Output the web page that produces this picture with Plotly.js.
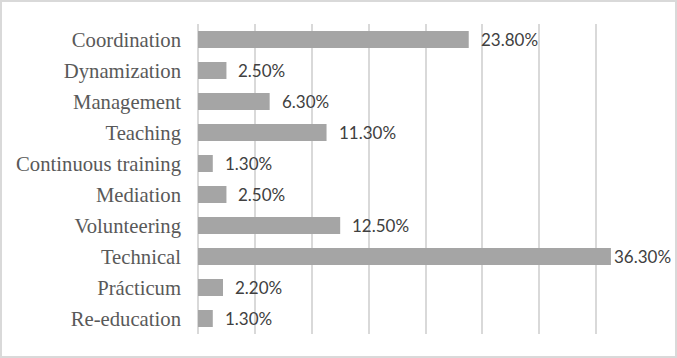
<!DOCTYPE html>
<html>
<head>
<meta charset="utf-8">
<script src="https://cdn.plot.ly/plotly-3.0.1.min.js"></script>
<style>
  html, body { margin: 0; padding: 0; background: #ffffff; }
  #chart { width: 677px; height: 358px; }
</style>
</head>
<body>
<div id="chart"></div>
<script>
const categories = ["Coordination", "Dynamization", "Management", "Teaching", "Continuous training", "Mediation", "Volunteering", "Technical", "Prácticum", "Re-education"];
const values = [23.8, 2.5, 6.3, 11.3, 1.3, 2.5, 12.5, 36.3, 2.2, 1.3];
const valueLabels = values.map(v => v.toFixed(2) + "%");

const W = 677, H = 358;
const M = { l: 198, r: 24, t: 24, b: 24 };
const pw = W - M.l - M.r, ph = H - M.t - M.b;

const trace = {
  type: "bar",
  orientation: "h",
  x: values,
  y: categories,
  marker: { color: "#a5a5a5" },
  hoverinfo: "none"
};

const annotations = values.map((v, i) => ({
  x: v,
  y: categories[i],
  xref: "x",
  yref: "y",
  text: valueLabels[i],
  showarrow: false,
  xanchor: "left",
  yanchor: "middle",
  xshift: v > 30 ? 1 : 10,
  font: { family: "Lato, 'Liberation Sans', sans-serif", size: 17, color: "#404040" }
}));

const layout = {
  width: W,
  height: H,
  margin: M,
  paper_bgcolor: "#ffffff",
  plot_bgcolor: "#ffffff",
  showlegend: false,
  bargap: 0.45,
  xaxis: {
    range: [0, 40],
    dtick: 5,
    tick0: 0,
    showticklabels: false,
    showgrid: true,
    gridcolor: "#d9d9d9",
    gridwidth: 2,
    zeroline: true,
    zerolinecolor: "#d9d9d9",
    zerolinewidth: 2,
    showline: false,
    fixedrange: true
  },
  yaxis: {
    autorange: "reversed",
    showgrid: false,
    zeroline: false,
    showline: false,
    ticks: "",
    ticklabelstandoff: 16,
    tickfont: { family: "'Liberation Serif', 'Times New Roman', serif", size: 20.7, color: "#595959" },
    fixedrange: true
  },
  annotations: annotations,
  shapes: [{
    type: "rect",
    xref: "paper", yref: "paper",
    x0: -(M.l - 1) / pw,
    x1: (W - 1 - M.l) / pw,
    y0: -(H - 1 - (H - M.b)) / ph,
    y1: (H - M.b - 1) / ph,
    line: { color: "#d9d9d9", width: 2 },
    fillcolor: "rgba(0,0,0,0)",
    layer: "above"
  }]
};

Plotly.newPlot("chart", [trace], layout, { displayModeBar: false, staticPlot: true });
</script>
</body>
</html>
